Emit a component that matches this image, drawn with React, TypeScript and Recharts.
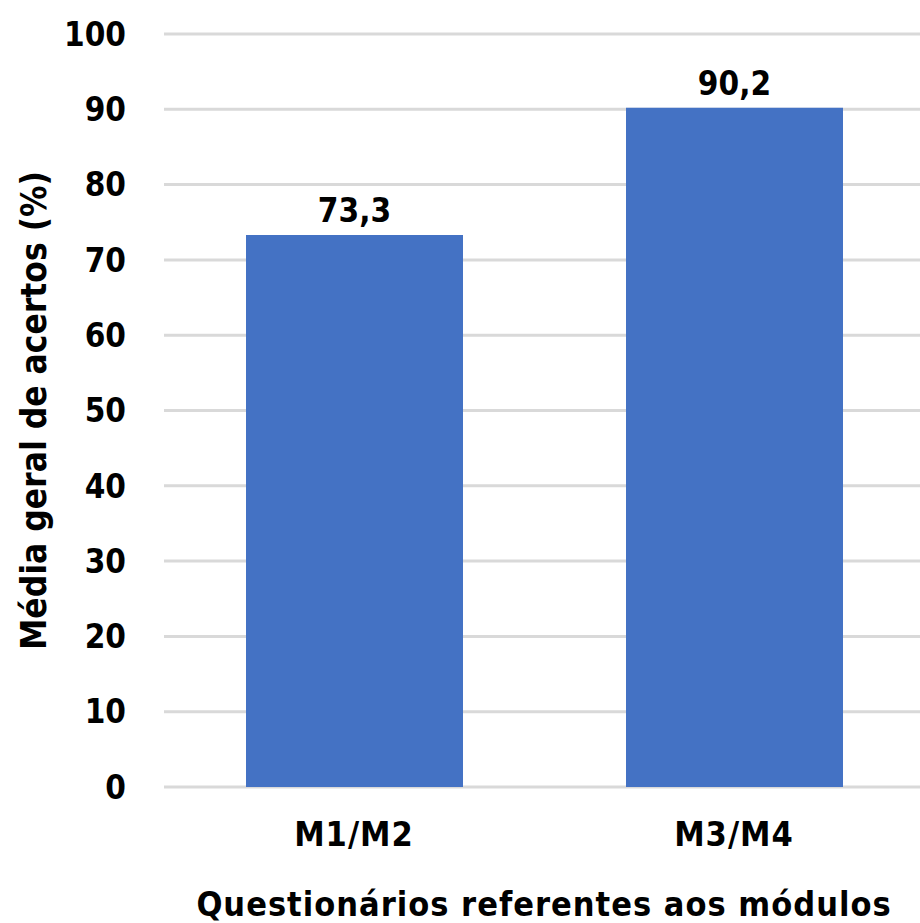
import React from 'react';
import { BarChart, Bar, XAxis, YAxis, CartesianGrid, LabelList } from 'recharts';

const categories = ['M1/M2', 'M3/M4'];
const values = [73.3, 90.2];
const yTicks = [0, 10, 20, 30, 40, 50, 60, 70, 80, 90, 100];
const yTitle = 'Média geral de acertos (%)';
const xTitle = 'Questionários  referentes aos módulos';

const data = categories.map((name, i) => ({ name, value: values[i] }));

const FONT = '"DejaVu Sans Condensed", "DejaVu Sans", sans-serif';
const fmt = (v: any) => Number(v).toFixed(1).replace('.', ',');

export default function App() {
  return (
    <div style={{ position: 'fixed', left: 0, top: 0, width: 920, height: 923, overflow: 'hidden', background: '#fff' }}>
      <BarChart
        width={925}
        height={923}
        data={data}
        margin={{ top: 34, right: 1, bottom: 0, left: 0 }}
        style={{ fontFamily: FONT }}
      >
        <CartesianGrid vertical={false} stroke="#d9d9d9" strokeWidth={3} />
        <XAxis
          dataKey="name"
          axisLine={false}
          tickLine={false}
          tickSize={0}
          tickMargin={35}
          height={136}
          tick={{ fill: '#000', fontSize: 34, fontWeight: 'bold', fontFamily: FONT, letterSpacing: 1 }}
          label={{ value: xTitle, position: 'insideBottom', offset: 7, fill: '#000', fontSize: 34, fontWeight: 'bold', fontFamily: FONT, letterSpacing: 1 }}
        />
        <YAxis
          domain={[0, 100]}
          ticks={yTicks}
          interval={0}
          axisLine={false}
          tickLine={false}
          tickSize={0}
          tickMargin={38}
          width={164}
          tick={{ fill: '#000', fontSize: 33, fontWeight: 'bold', fontFamily: FONT }}
          label={{
            value: yTitle,
            angle: -90,
            position: 'insideLeft',
            offset: 34,
            fill: '#000',
            fontSize: 35,
            fontWeight: 'bold',
            fontFamily: FONT,
            style: { textAnchor: 'middle' },
          }}
        />
        <Bar dataKey="value" fill="#4472C4" barSize={217} isAnimationActive={false}>
          <LabelList dataKey="value" position="top" offset={13} formatter={fmt} fill="#000" fontSize={33} fontWeight="bold" fontFamily={FONT} />
        </Bar>
      </BarChart>
    </div>
  );
}
